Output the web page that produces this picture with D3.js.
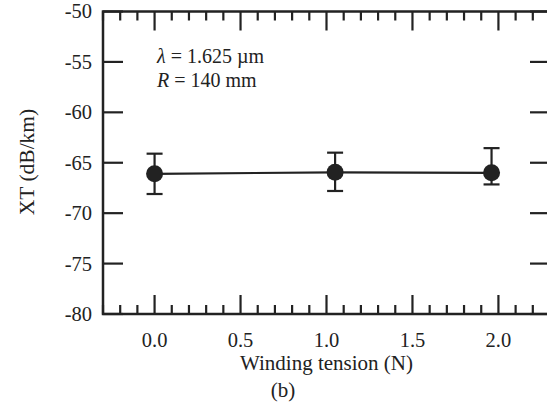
<!DOCTYPE html>
<html>
<head>
<meta charset="utf-8">
<script src="https://cdn.jsdelivr.net/npm/d3@7"></script>
<style>
  body { margin: 0; background: #fff; }
  svg { display: block; }
</style>
</head>
<body>
<svg id="chart" width="547" height="411"></svg>
<script>
// tension (N), crosstalk (dB/km) and error bar ends
var tension = [0.0, 1.05, 1.96];
var xtMean = [-66.1, -65.95, -66.0];
var xtHigh = [-64.1, -64.0, -63.55];
var xtLow = [-68.1, -67.8, -67.15];
var xTicks = [0.0, 0.5, 1.0, 1.5, 2.0];
var yTicks = [-80, -75, -70, -65, -60, -55, -50];

var svg = d3.select('#chart')
    .attr('font-family', "'Times New Roman', 'Liberation Serif', Times, serif"),
  margin = { top: 11.5, left: 103, right: -3, bottom: 97 },
  w = svg.attr('width') - margin.left - margin.right,
  h = svg.attr('height') - margin.top - margin.bottom;

var x = d3.scaleLinear().domain([-0.3, 2.3]).range([0, w]),
  y = d3.scaleLinear().domain([-80, -50]).range([h, 0]);

var g = svg
  .append('g')
  .attr('transform', 'translate(' + margin.left + ',' + margin.top + ')');

var ink = '#222';
var minor = d3.range(-3, 24).map(d => d / 10);

// frame
g.append('rect')
  .attr('width', w)
  .attr('height', h)
  .attr('fill', 'none')
  .attr('stroke', ink)
  .attr('stroke-width', 2.5);

// bottom & top ticks (inward)
var xt = g.append('g').attr('stroke', ink).attr('stroke-width', 2.2);
minor.forEach(function(d) {
  var major = Math.abs(d * 2 - Math.round(d * 2)) < 1e-6;
  var len = major ? 19 : 9;
  xt.append('line').attr('x1', x(d)).attr('x2', x(d)).attr('y1', h).attr('y2', h - len);
  xt.append('line').attr('x1', x(d)).attr('x2', x(d)).attr('y1', 0).attr('y2', len);
});

// left & right ticks
yTicks.forEach(function(d) {
  xt.append('line').attr('x1', 0).attr('x2', 20).attr('y1', y(d)).attr('y2', y(d));
  xt.append('line').attr('x1', w).attr('x2', w - 20).attr('y1', y(d)).attr('y2', y(d));
});

g.selectAll('.ylab')
  .data(yTicks)
  .enter()
  .append('text')
  .attr('x', -11)
  .attr('y', d => y(d))
  .attr('dy', '0.34em')
  .attr('text-anchor', 'end')
  .attr('font-size', 20.5)
  .attr('fill', ink)
  .text(d => d);

g.selectAll('.xlab')
  .data(xTicks)
  .enter()
  .append('text')
  .attr('x', d => x(d))
  .attr('y', h + 33)
  .attr('text-anchor', 'middle')
  .attr('font-size', 20.5)
  .attr('fill', ink)
  .text(d => d.toFixed(1));

g.append('text')
  .attr('x', x(1.0))
  .attr('y', h + 56)
  .attr('text-anchor', 'middle')
  .attr('font-size', 21)
  .attr('fill', ink)
  .text('Winding tension (N)');

svg.append('text')
  .attr('x', 283)
  .attr('y', 397)
  .attr('text-anchor', 'middle')
  .attr('font-size', 21)
  .attr('fill', ink)
  .text('(b)');

svg.append('text')
  .attr('transform', 'translate(34,162) rotate(-90)')
  .attr('text-anchor', 'middle')
  .attr('font-size', 21.5)
  .attr('fill', ink)
  .text('XT (dB/km)');

// annotation
var ann = svg.append('text').attr('font-size', 20).attr('fill', ink);
ann.append('tspan').attr('x', 157).attr('y', 63).attr('font-style', 'italic').text('λ');
ann.append('tspan').text(' = 1.625 µm');
var ann2 = svg.append('text').attr('font-size', 20).attr('fill', ink);
ann2.append('tspan').attr('x', 157).attr('y', 87).attr('font-style', 'italic').text('R');
ann2.append('tspan').text(' = 140 mm');

// data
var pts = tension.map(function(t, i) {
  return { t: t, m: xtMean[i], hi: xtHigh[i], lo: xtLow[i] };
});

g.append('path')
  .datum(pts)
  .attr('fill', 'none')
  .attr('stroke', ink)
  .attr('stroke-width', 2.2)
  .attr('d', d3.line().x(d => x(d.t)).y(d => y(d.m)));

var eb = g.selectAll('.eb').data(pts).enter().append('g')
  .attr('stroke', ink).attr('stroke-width', 2.2);
eb.append('line').attr('x1', d => x(d.t)).attr('x2', d => x(d.t))
  .attr('y1', d => y(d.hi)).attr('y2', d => y(d.lo));
eb.append('line').attr('x1', d => x(d.t) - 8).attr('x2', d => x(d.t) + 8)
  .attr('y1', d => y(d.hi)).attr('y2', d => y(d.hi));
eb.append('line').attr('x1', d => x(d.t) - 8).attr('x2', d => x(d.t) + 8)
  .attr('y1', d => y(d.lo)).attr('y2', d => y(d.lo));

g.selectAll('circle')
  .data(pts)
  .enter()
  .append('circle')
  .attr('cx', d => x(d.t))
  .attr('cy', d => y(d.m))
  .attr('r', 8.5)
  .attr('fill', ink);
</script>
</body>
</html>
